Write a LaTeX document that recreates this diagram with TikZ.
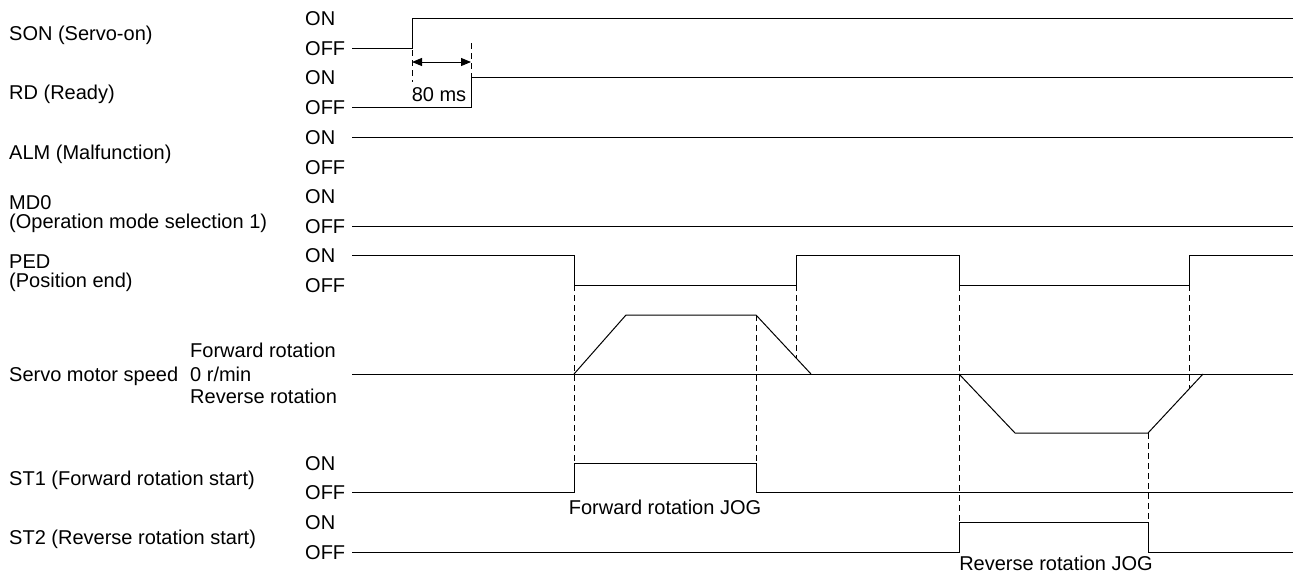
\documentclass[tikz,border=0pt]{standalone}
\usepackage{fontspec}
\setmainfont{Liberation Sans}
\usetikzlibrary{arrows.meta}
\begin{document}
\begin{tikzpicture}[x=1pt,y=-1pt,
  every node/.style={font=\fontsize{20}{24}\selectfont},
  lbl/.style={inner sep=0pt, text height=14.4pt, text depth=0pt, anchor=west},
  ctr/.style={inner sep=0pt, text height=14.4pt, text depth=0pt, anchor=center},
  wave/.style={line width=1pt, line join=miter},
  guide/.style={line width=0.9pt, dash pattern=on 6pt off 4pt}]
\useasboundingbox (0,0) rectangle (1293,576);
% left labels
\node[lbl] (lson) at (9,33) {SON (Servo-on)};
\node[lbl] (lrd) at (9,92) {RD (Ready)};
\node[lbl] (lalm) at (9,152) {ALM (Malfunction)};
\node[lbl] (lmd) at (9,202) {MD0};
\node[lbl] (lmd2) at (9,221) {(Operation mode selection 1)};
\node[lbl] (lped) at (9,261) {PED};
\node[lbl] (lped2) at (9,280) {(Position end)};
\node[lbl] (lspd) at (9,374) {Servo motor speed};
\node[lbl] (lst1) at (9,478) {ST1 (Forward rotation start)};
\node[lbl] (lst2) at (9,537) {ST2 (Reverse rotation start)};
% level labels
\foreach \n/\y/\t in {a/18/ON,b/48/OFF,c/77/ON,d/107/OFF,e/137/ON,f/167/OFF,g/196/ON,h/226/OFF,i/255/ON,j/285/OFF,k/463/ON,l/492/OFF,m/522/ON,n/552/OFF}
  \node[lbl] (lv\n) at (305,\y) {\t};
\node[lbl] (fwd) at (190,350) {Forward rotation};
\node[lbl] (zero) at (190,374) {0 r/min};
\node[lbl] (rev) at (190,396) {Reverse rotation};
% waveforms
\draw[wave] (352,48) -- (412,48) -- (412,18) -- (1293,18);
\draw[wave] (352,107) -- (471,107) -- (471,77) -- (1293,77);
\draw[wave] (352,137) -- (1293,137);
\draw[wave] (352,226) -- (1293,226);
\draw[wave] (352,255) -- (574,255) -- (574,285) -- (796,285) -- (796,255) -- (959,255) -- (959,285) -- (1189,285) -- (1189,255) -- (1293,255);
\draw[wave] (352,374) -- (1293,374);
\draw[wave] (574,374) -- (626,315) -- (756,315) -- (811,374);
\draw[wave] (959,374) -- (1015,433) -- (1148,433) -- (1203,374);
\draw[wave] (352,492) -- (574,492) -- (574,463) -- (756,463) -- (756,492) -- (1293,492);
\draw[wave] (352,552) -- (959,552) -- (959,522) -- (1148,522) -- (1148,552) -- (1293,552);
% guides
\draw[guide] (412,50) -- (412,82);
\draw[guide] (471,43) -- (471,77);
\draw[guide] (574,285) -- (574,463);
\draw[guide] (756,315) -- (756,463);
\draw[guide] (796,285) -- (796,358);
\draw[guide] (959,285) -- (959,522);
\draw[guide] (1148,433) -- (1148,522);
\draw[guide] (1189,285) -- (1189,389);
% 80 ms
\coordinate (t0) at (412,62);
\coordinate (t1) at (471,62);
\draw[line width=1pt, {Triangle[length=10pt,width=8pt]}-{Triangle[length=10pt,width=8pt]}] (t0) -- (t1);
\node[ctr] (ms) at (439,94) {80 ms};
\node[ctr] (fjog) at (665,507) {Forward rotation JOG};
\node[ctr] (rjog) at (1056,563) {Reverse rotation JOG};
\end{tikzpicture}
\end{document}
